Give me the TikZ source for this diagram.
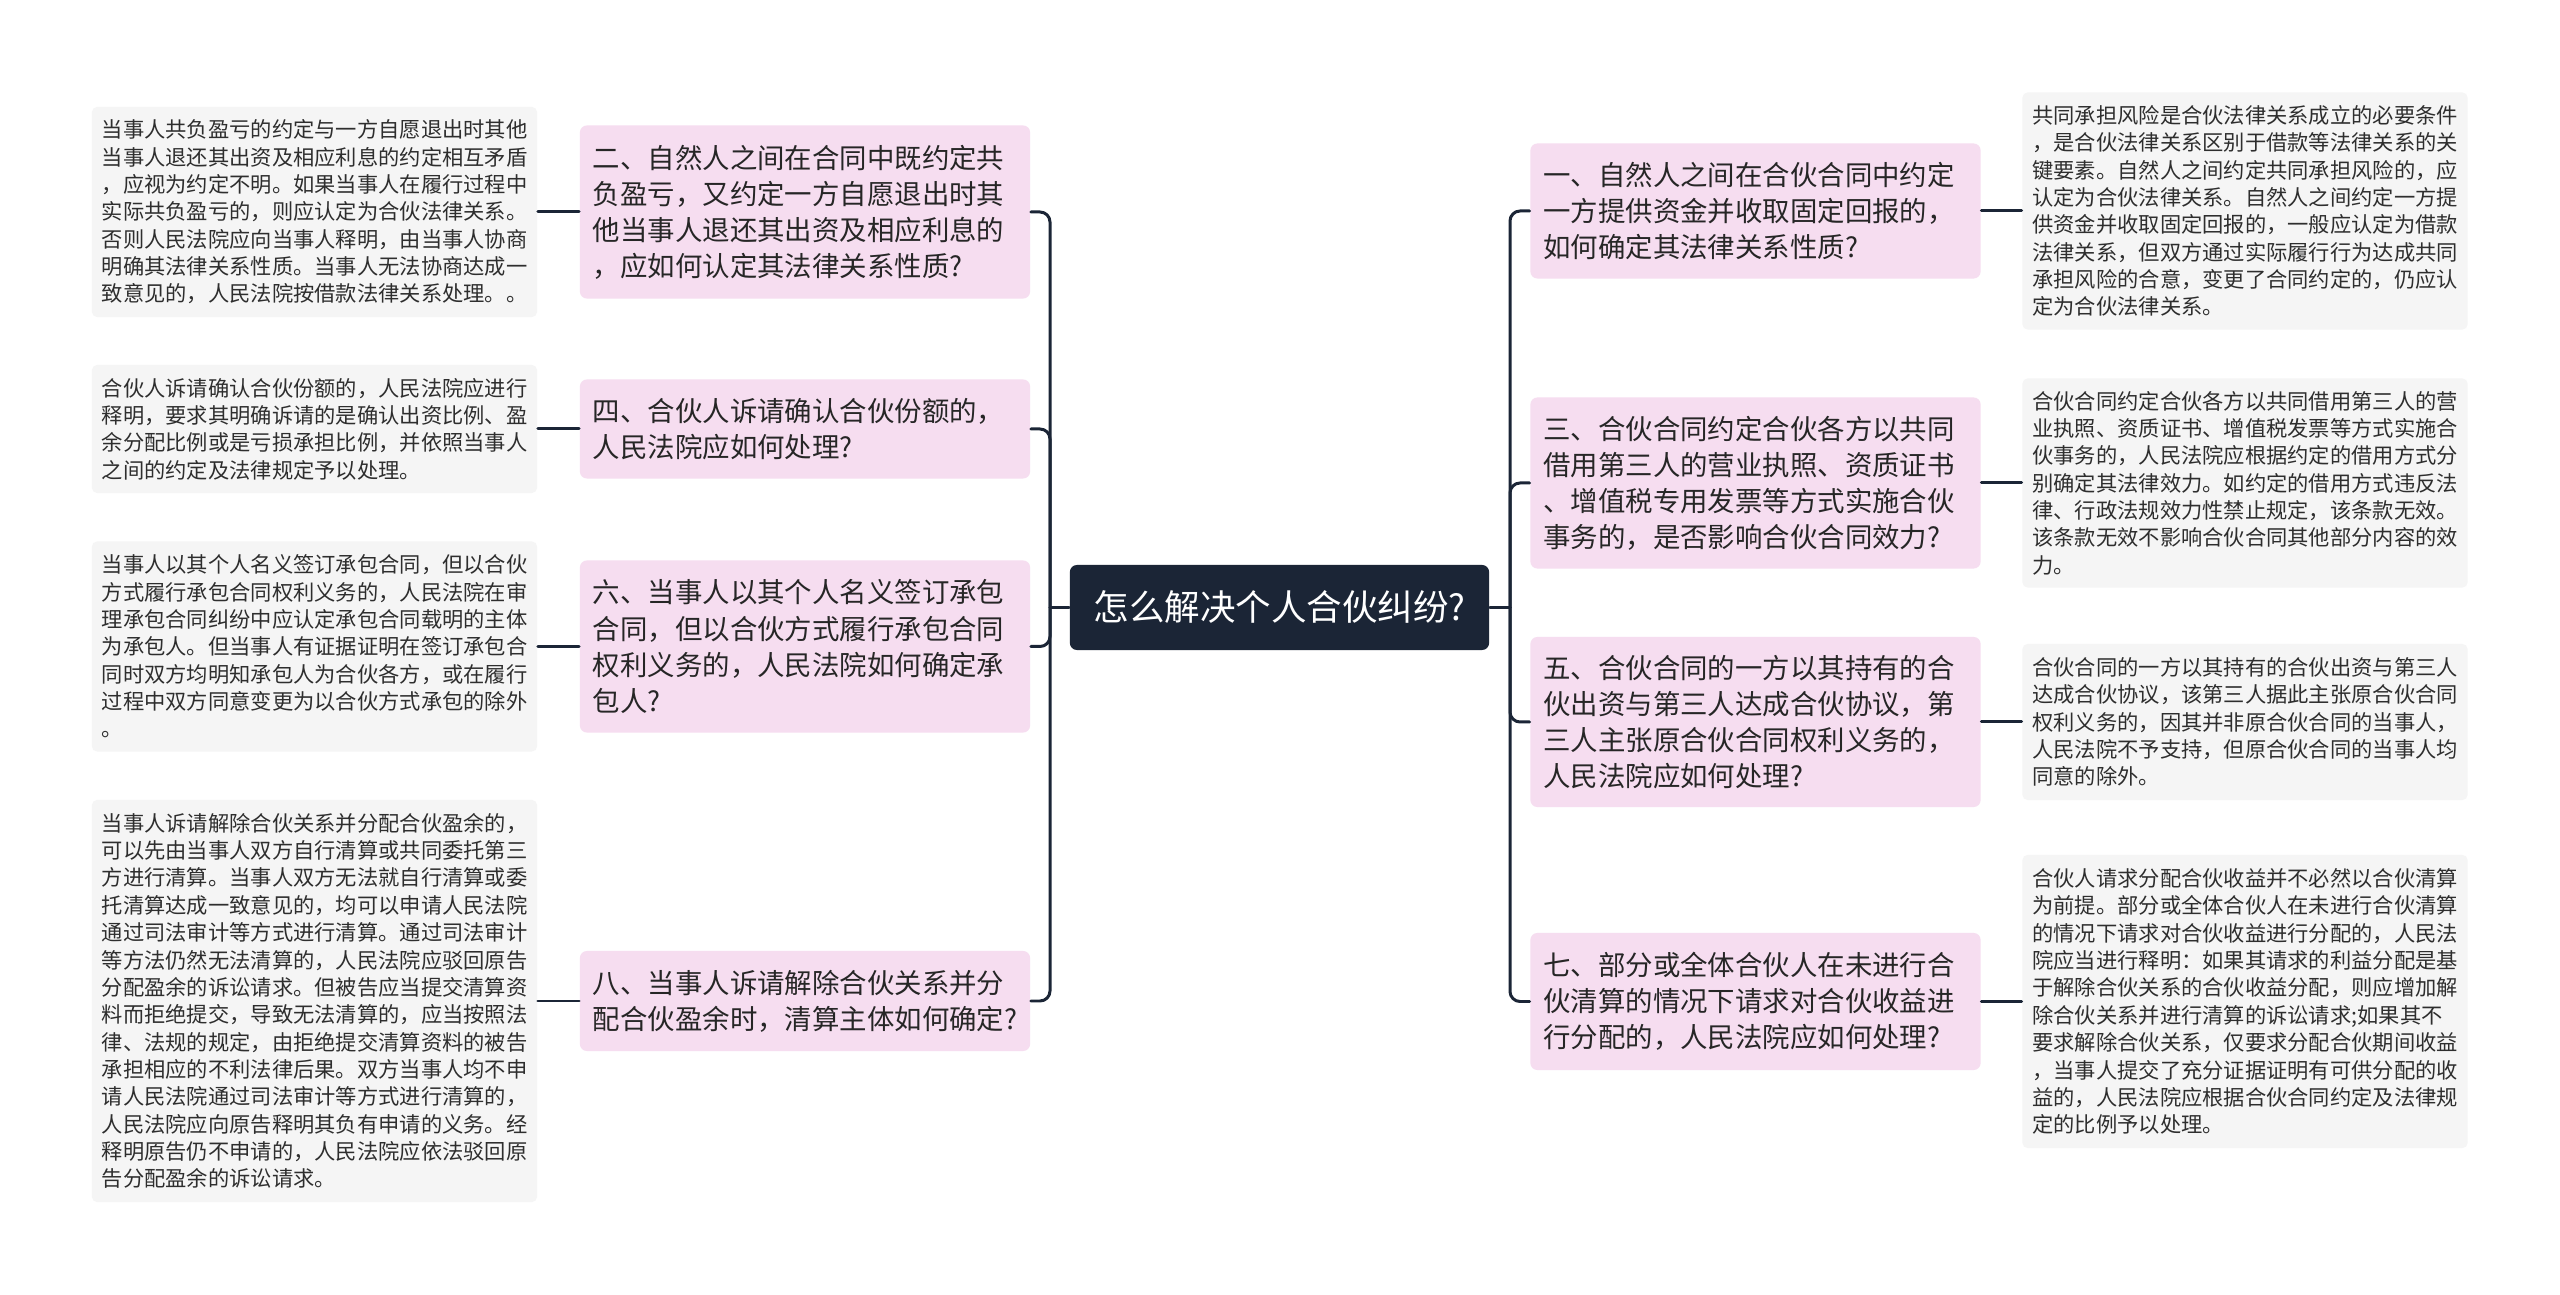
\documentclass[tikz,border=0pt]{standalone}
\usepackage{fontspec}
\setmainfont{Noto Sans CJK SC}
\usetikzlibrary{positioning}
\definecolor{mapNavy}{HTML}{1B2536}
\definecolor{mapPink}{HTML}{F6DDF0}
\definecolor{mapLeafBg}{HTML}{F5F5F5}
\definecolor{mapText}{HTML}{262626}
\definecolor{mapLeafText}{HTML}{2E2E2E}
\newcommand{\rootfont}{\fontsize{10.1pt}{12pt}\selectfont}
\newcommand{\branchfont}{\fontsize{7.8pt}{10.25pt}\selectfont}
\newcommand{\leaffont}{\fontsize{6.05pt}{7.78pt}\selectfont}
\tikzset{
    mindmap/.style={x=0.01cm, y=-0.01cm, line cap=round, line join=round},
    topic/.style={fill=mapNavy, text=white, rounded corners=2pt,
                  minimum width=4.19cm, minimum height=0.85cm,
                  inner sep=0pt, font=\rootfont},
    question/.style={fill=mapPink, text=mapText, rounded corners=2pt,
                     minimum width=4.5cm, text width=4.24cm,
                     inner xsep=0.13cm, inner ysep=0pt, align=left,
                     font=\branchfont},
    answer/.style={fill=mapLeafBg, text=mapLeafText, rounded corners=1.5pt,
                   minimum width=4.45cm, text width=4.25cm,
                   inner xsep=0.1cm, inner ysep=0pt, align=left,
                   font=\leaffont},
    link/.style={draw=mapNavy, line width=0.85pt, rounded corners=0.1cm},
}

\begin{document}
\begin{tikzpicture}[mindmap]

\fill[white] (0,0) rectangle (2560,1295);
\useasboundingbox (0,0) rectangle (2560,1295);

% ─── Centre ─────────────────────────────────────────────────────────────
\node[topic] (root) at (1279.5,607.5) {怎么解决个人合伙纠纷?};
\coordinate (ljoint) at (1050,607.5);
\coordinate (rjoint) at (1510,607.5);

% ─── Questions, gauche ──────────────────────────────────────────────────
\node[question, minimum height=1.73cm] (q2) at (805,212) {二、自然人之间在合同中既约定共\\负盈亏，又约定一方自愿退出时其\\他当事人退还其出资及相应利息的\\，应如何认定其法律关系性质?};
\node[question, minimum height=0.99cm] (q4) at (805,429) {四、合伙人诉请确认合伙份额的，\\人民法院应如何处理?};
\node[question, minimum height=1.72cm] (q6) at (805,646.5) {六、当事人以其个人名义签订承包\\合同，但以合伙方式履行承包合同\\权利义务的，人民法院如何确定承\\包人?};
\node[question, minimum height=1.00cm] (q8) at (805,1001) {八、当事人诉请解除合伙关系并分\\配合伙盈余时，清算主体如何确定?};

% ─── Questions, droite ──────────────────────────────────────────────────
\node[question, minimum height=1.35cm] (q1) at (1755.5,211) {一、自然人之间在合伙合同中约定\\一方提供资金并收取固定回报的，\\如何确定其法律关系性质?};
\node[question, minimum height=1.71cm] (q3) at (1755.5,483) {三、合伙合同约定合伙各方以共同\\借用第三人的营业执照、资质证书\\、增值税专用发票等方式实施合伙\\事务的，是否影响合伙合同效力?};
\node[question, minimum height=1.70cm] (q5) at (1755.5,722) {五、合伙合同的一方以其持有的合\\伙出资与第三人达成合伙协议，第\\三人主张原合伙合同权利义务的，\\人民法院应如何处理?};
\node[question, minimum height=1.37cm] (q7) at (1755.5,1001.5) {七、部分或全体合伙人在未进行合\\伙清算的情况下请求对合伙收益进\\行分配的，人民法院应如何处理?};

% ─── Réponses ───────────────────────────────────────────────────────────
\node[answer, minimum height=2.10cm] (a2) at (314.5,212) {当事人共负盈亏的约定与一方自愿退出时其他\\当事人退还其出资及相应利息的约定相互矛盾\\，应视为约定不明。如果当事人在履行过程中\\实际共负盈亏的，则应认定为合伙法律关系。\\否则人民法院应向当事人释明，由当事人协商\\明确其法律关系性质。当事人无法协商达成一\\致意见的，人民法院按借款法律关系处理。。};
\node[answer, minimum height=1.28cm] (a4) at (314.5,429) {合伙人诉请确认合伙份额的，人民法院应进行\\释明，要求其明确诉请的是确认出资比例、盈\\余分配比例或是亏损承担比例，并依照当事人\\之间的约定及法律规定予以处理。};
\node[answer, minimum height=2.10cm] (a6) at (314.5,646.5) {当事人以其个人名义签订承包合同，但以合伙\\方式履行承包合同权利义务的，人民法院在审\\理承包合同纠纷中应认定承包合同载明的主体\\为承包人。但当事人有证据证明在签订承包合\\同时双方均明知承包人为合伙各方，或在履行\\过程中双方同意变更为以合伙方式承包的除外\\。};
\node[answer, minimum height=4.02cm] (a8) at (314.5,1001) {当事人诉请解除合伙关系并分配合伙盈余的，\\可以先由当事人双方自行清算或共同委托第三\\方进行清算。当事人双方无法就自行清算或委\\托清算达成一致意见的，均可以申请人民法院\\通过司法审计等方式进行清算。通过司法审计\\等方法仍然无法清算的，人民法院应驳回原告\\分配盈余的诉讼请求。但被告应当提交清算资\\料而拒绝提交，导致无法清算的，应当按照法\\律、法规的规定，由拒绝提交清算资料的被告\\承担相应的不利法律后果。双方当事人均不申\\请人民法院通过司法审计等方式进行清算的，\\人民法院应向原告释明其负有申请的义务。经\\释明原告仍不申请的，人民法院应依法驳回原\\告分配盈余的诉讼请求。};
\node[answer, minimum height=2.37cm] (a1) at (2245,211) {共同承担风险是合伙法律关系成立的必要条件\\，是合伙法律关系区别于借款等法律关系的关\\键要素。自然人之间约定共同承担风险的，应\\认定为合伙法律关系。自然人之间约定一方提\\供资金并收取固定回报的，一般应认定为借款\\法律关系，但双方通过实际履行行为达成共同\\承担风险的合意，变更了合同约定的，仍应认\\定为合伙法律关系。};
\node[answer, minimum height=2.09cm] (a3) at (2245,483) {合伙合同约定合伙各方以共同借用第三人的营\\业执照、资质证书、增值税发票等方式实施合\\伙事务的，人民法院应根据约定的借用方式分\\别确定其法律效力。如约定的借用方式违反法\\律、行政法规效力性禁止规定，该条款无效。\\该条款无效不影响合伙合同其他部分内容的效\\力。};
\node[answer, minimum height=1.56cm] (a5) at (2245,722) {合伙合同的一方以其持有的合伙出资与第三人\\达成合伙协议，该第三人据此主张原合伙合同\\权利义务的，因其并非原合伙合同的当事人，\\人民法院不予支持，但原合伙合同的当事人均\\同意的除外。};
\node[answer, minimum height=2.93cm] (a7) at (2245,1001.5) {合伙人请求分配合伙收益并不必然以合伙清算\\为前提。部分或全体合伙人在未进行合伙清算\\的情况下请求对合伙收益进行分配的，人民法\\院应当进行释明：如果其请求的利益分配是基\\于解除合伙关系的合伙收益分配，则应增加解\\除合伙关系并进行清算的诉讼请求;如果其不\\要求解除合伙关系，仅要求分配合伙期间收益\\，当事人提交了充分证据证明有可供分配的收\\益的，人民法院应根据合伙合同约定及法律规\\定的比例予以处理。};

% ─── Branches ───────────────────────────────────────────────────────────
\draw[link] (root.west) -- (ljoint);
\draw[link] (q2.east) -| (ljoint) |- (q8.east);
\draw[link] (ljoint) |- (q4.east);
\draw[link] (ljoint) |- (q6.east);

\draw[link] (root.east) -- (rjoint);
\draw[link] (q1.west) -| (rjoint) |- (q7.west);
\draw[link] (rjoint) |- (q3.west);
\draw[link] (rjoint) |- (q5.west);

\foreach \n in {1,...,8}{
    \draw[link] (q\n) -- (a\n);
}

\end{tikzpicture}
\end{document}
